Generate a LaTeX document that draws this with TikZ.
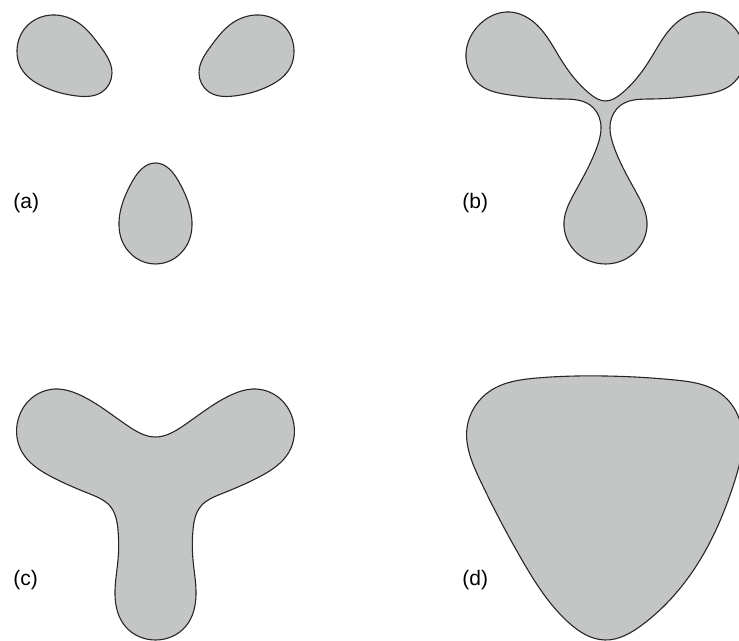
\documentclass[tikz,border=0pt]{standalone}
\usepackage{fontspec}
\setmainfont{Liberation Sans}
\usepackage{xcolor}
\usepackage{tikz}
\usetikzlibrary{hobby}

\definecolor{blobfill}{RGB}{196,198,197}

\begin{document}
\begin{tikzpicture}[
        x=0.5pt, y=-0.5pt,
        blob/.style={draw=black!85, fill=blobfill, line width=0.55pt},
        panellabel/.style={anchor=west, inner sep=0pt, font=\fontsize{10.5}{12}\selectfont}
    ]
        \path[use as bounding box] (0,0) rectangle (739,641);
        \clip (0,0) rectangle (739,641);

        % (a) three separate drops
        \draw[blob] plot[closed hobby] coordinates {(17,50) (26,27) (52,15) (80,24) (100,46) (112,73) (102,92) (77,96) (42,86) (21,68)};
        \draw[blob] plot[closed hobby] coordinates {(294,50) (285,27) (259,15) (231,24) (211,46) (199,73) (209,92) (234,96) (269,86) (290,68)};
        \draw[blob] plot[closed hobby] coordinates {(155.5,163) (132,182) (120,213) (123,243) (155.5,264) (188,243) (191,213) (179,182)};

        % (b) drops joined by thin necks
        \draw[blob] plot[closed hobby] coordinates {(605.5,101) (590,94) (560,58) (538,26) (510,12) (480,24) (466,53) (480,85) (510,95) (560,99) (590,105) (600.5,122) (597,147) (575,192) (564,222) (578,254) (605.5,264) (633,254) (647,222) (636,192) (614,147) (610.5,122) (621,105) (651,99) (701,95) (731,85) (745,53) (731,24) (701,12) (673,26) (651,58) (621,94)};

        % (c) thick three-armed shape
        \draw[blob] plot[closed hobby] coordinates {(155.5,437) (128,426) (80,395) (58,389) (33,397) (18,420) (22,452) (50,476) (90,494) (110,506) (118,530) (118,560) (115,595) (125,626) (155.5,640) (186,626) (196,595) (193,560) (193,530) (201,506) (221,494) (261,476) (289,452) (293,420) (278,397) (253,389) (231,395) (183,426)};

        % (d) rounded triangle
        \draw[blob] plot[closed hobby] coordinates {(605,376) (537,378) (490,391) (467,428) (480,480) (522,560) (568,622) (605,640) (642,625) (700,560) (735,480) (741,425) (720,393) (675,380)};

        \node[panellabel] (lbla) at (13,203) {(a)};
        \node[panellabel] (lblb) at (462,203) {(b)};
        \node[panellabel] (lblc) at (13,580) {(c)};
        \node[panellabel] (lbld) at (462,580) {(d)};
    \end{tikzpicture}
\end{document}
